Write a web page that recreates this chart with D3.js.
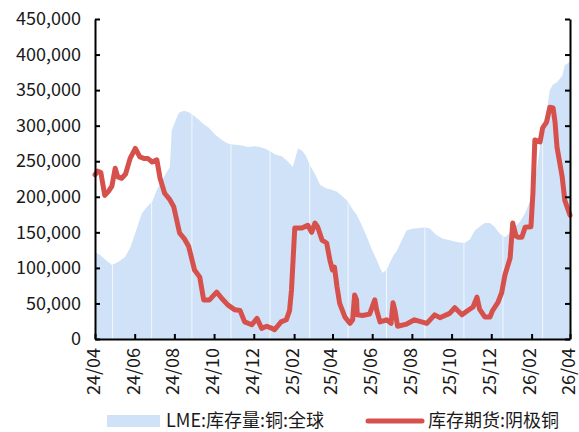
<!DOCTYPE html>
<html>
<head>
<meta charset="utf-8">
<script src="https://cdn.jsdelivr.net/npm/d3@7"></script>
<style>
  html, body { margin: 0; padding: 0; background: #fff; }
  svg text { font-family: "Noto Sans CJK SC", "Noto Sans", sans-serif; fill: #1a1a1a; }
</style>
</head>
<body>
<svg id="chart" width="579" height="432"></svg>
<script>
// LME copper stocks (global), tonnes
const lmeDates = [
  "2024-04-01","2024-04-09","2024-04-16","2024-04-27","2024-05-06","2024-05-17","2024-05-25",
  "2024-06-02","2024-06-12","2024-06-20","2024-06-28","2024-07-05","2024-07-16","2024-07-25",
  "2024-07-28","2024-08-02","2024-08-08","2024-08-16","2024-08-23","2024-08-31","2024-09-08",
  "2024-09-15","2024-09-23","2024-10-02","2024-10-13","2024-10-22","2024-11-02","2024-11-13",
  "2024-11-22","2024-12-03","2024-12-10","2024-12-18","2024-12-26","2025-01-04","2025-01-13",
  "2025-01-22","2025-01-30","2025-02-04","2025-02-07","2025-02-13","2025-02-19","2025-02-25",
  "2025-03-05","2025-03-13","2025-03-22","2025-03-31","2025-04-08","2025-04-17","2025-04-25",
  "2025-05-02","2025-05-08","2025-05-16","2025-05-24","2025-05-31","2025-06-08","2025-06-13",
  "2025-06-17","2025-06-23","2025-06-28","2025-07-04","2025-07-09","2025-07-17","2025-07-24",
  "2025-08-02","2025-08-13","2025-08-21","2025-08-29","2025-09-08","2025-09-18","2025-09-28",
  "2025-10-11","2025-10-21","2025-10-29","2025-11-06","2025-11-13","2025-11-21","2025-11-29",
  "2025-12-06","2025-12-14","2025-12-22","2025-12-30","2026-01-06","2026-01-14","2026-01-22",
  "2026-01-30","2026-02-03","2026-02-09","2026-02-14","2026-02-18","2026-02-24","2026-03-01",
  "2026-03-06","2026-03-12","2026-03-20","2026-03-24","2026-04-01"
];
const lmeValues = [
  122000,118000,112000,104000,108000,115000,128000,
  149000,177000,186000,193000,210000,228000,242000,
  294000,305000,318000,321000,319000,314000,308000,
  302000,297000,288000,280000,275000,273000,272000,
  270000,271000,270000,268000,264000,259000,257000,
  250000,242000,258000,268000,265000,258000,245000,
  232000,217000,212000,210000,207000,200000,193000,
  182000,175000,160000,143000,127000,111000,100000,
  93000,97000,107000,118000,124000,140000,153000,
  155000,156000,157000,155000,146000,141000,139000,
  136000,135000,140000,153000,158000,163000,163000,
  158000,148000,143000,150000,157000,165000,177000,
  195000,214000,238000,270000,298000,320000,350000,
  358000,361000,370000,385000,390000
];

// SHFE cathode copper warrant stocks, tonnes
const shfeDates = [
  "2024-04-01","2024-04-05","2024-04-10","2024-04-16","2024-04-22","2024-04-27","2024-05-02",
  "2024-05-06","2024-05-12","2024-05-18","2024-05-25","2024-06-02","2024-06-09","2024-06-15",
  "2024-06-21","2024-06-28","2024-07-05","2024-07-10","2024-07-17","2024-07-25","2024-07-31",
  "2024-08-09","2024-08-17","2024-08-23","2024-09-01","2024-09-09","2024-09-15","2024-09-24",
  "2024-10-01","2024-10-05","2024-10-13","2024-10-22","2024-11-02","2024-11-10","2024-11-17",
  "2024-11-28","2024-12-06","2024-12-13","2024-12-21","2024-12-29","2025-01-02","2025-01-12",
  "2025-01-20","2025-01-25","2025-01-28","2025-02-02","2025-02-13","2025-02-22","2025-02-28",
  "2025-03-05","2025-03-09","2025-03-16","2025-03-23","2025-03-28","2025-04-01","2025-04-04",
  "2025-04-08","2025-04-12","2025-04-20","2025-04-28","2025-05-02","2025-05-05","2025-05-08",
  "2025-05-09","2025-05-17","2025-05-28","2025-06-05","2025-06-08","2025-06-13","2025-06-23",
  "2025-06-30","2025-07-03","2025-07-06","2025-07-10","2025-07-24","2025-08-05","2025-08-24",
  "2025-09-05","2025-09-13","2025-09-28","2025-10-06","2025-10-17","2025-10-26","2025-11-03",
  "2025-11-09","2025-11-13","2025-11-21","2025-11-29","2025-12-03","2025-12-11","2025-12-17",
  "2025-12-22","2025-12-30","2026-01-03","2026-01-08","2026-01-11","2026-01-17","2026-01-22",
  "2026-01-31","2026-02-03","2026-02-06","2026-02-14","2026-02-18","2026-02-24","2026-03-01",
  "2026-03-06","2026-03-09","2026-03-12","2026-03-20","2026-03-24","2026-04-01"
];
const shfeValues = [
  231000,236000,234000,202000,208000,215000,240000,
  228000,226000,232000,254000,268000,256000,254000,
  254000,249000,252000,226000,205000,196000,186000,
  149000,140000,130000,97000,87000,55000,55000,
  62000,66000,57000,48000,41000,40000,24000,
  20000,29000,15000,18000,15000,13000,24000,
  27000,40000,69000,156000,156000,160000,150000,
  163000,158000,139000,135000,111000,97000,101000,
  73000,50000,31000,22000,27000,62000,55000,
  34000,33000,35000,55000,40000,24000,27000,
  22000,51000,40000,18000,21000,27000,22000,
  34000,30000,36000,44000,34000,40000,45000,
  59000,42000,31000,31000,40000,51000,65000,
  90000,114000,163000,145000,143000,143000,157000,
  158000,205000,280000,277000,297000,305000,326000,
  325000,305000,270000,228000,195000,174000
];

// Light separators running through the filled area
const areaGapDates = [
  "2024-04-28","2024-06-27","2024-08-28","2024-10-27","2024-12-26","2025-02-25",
  "2025-04-25","2025-06-23","2025-08-21","2025-10-20","2025-12-19","2026-02-18"
];

const yTicks = [0, 50000, 100000, 150000, 200000, 250000, 300000, 350000, 400000, 450000];
const xTicks = [
  "2024-04-01","2024-06-01","2024-08-01","2024-10-01","2024-12-01","2025-02-01","2025-04-01",
  "2025-06-01","2025-08-01","2025-10-01","2025-12-01","2026-02-01","2026-04-01"
];
const xDomain = ["2024-04-01", "2026-04-01"];
const legendLabels = ["LME:库存量:铜:全球", "库存期货:阴极铜"];

const parse = d3.utcParse("%Y-%m-%d");
const lme = lmeDates.map((d, i) => ({ date: parse(d), value: lmeValues[i] }));
const shfe = shfeDates.map((d, i) => ({ date: parse(d), value: shfeValues[i] }));

const svg = d3.select("#chart");
const plotLeft = 95, plotRight = 570, plotTop = 19, plotBottom = 339;

const x = d3.scaleUtc().domain(xDomain.map(parse)).range([plotLeft, plotRight]);
const y = d3.scaleLinear().domain([0, 450000]).range([plotBottom, plotTop]);

const blue = "#cfe2f8";
const red = "#d6514c";

// LME area
svg.append("path")
  .datum(lme)
  .attr("fill", blue)
  .attr("d", d3.area().x(d => x(d.date)).y0(y(0)).y1(d => y(d.value)));

const lmeAt = d => {
  const i = d3.bisector(p => p.date).left(lme, d);
  const a = lme[Math.max(0, i - 1)], b = lme[Math.min(lme.length - 1, i)];
  const t = b.date - a.date ? (d - a.date) / (b.date - a.date) : 0;
  return a.value + (b.value - a.value) * t;
};

svg.append("g")
  .selectAll("line")
  .data(areaGapDates.map(parse))
  .join("line")
  .attr("x1", d => x(d)).attr("x2", d => x(d))
  .attr("y1", y(0)).attr("y2", d => y(lmeAt(d)))
  .attr("stroke", "#ffffff")
  .attr("stroke-opacity", 0.75)
  .attr("stroke-width", 1);

// SHFE line
svg.append("path")
  .datum(shfe)
  .attr("fill", "none")
  .attr("stroke", red)
  .attr("stroke-width", 5)
  .attr("stroke-linejoin", "round")
  .attr("stroke-linecap", "round")
  .attr("d", d3.line().x(d => x(d.date)).y(d => y(d.value)));

// Axes
const fmt = d3.format(",");
const yLeft = svg.append("g")
  .attr("transform", `translate(${plotLeft},0)`)
  .call(d3.axisLeft(y).tickValues(yTicks).tickFormat(fmt).tickSizeInner(-5).tickSizeOuter(0).tickPadding(14));

const yRight = svg.append("g")
  .attr("transform", `translate(${plotRight},0)`)
  .call(d3.axisRight(y).tickValues(yTicks).tickFormat("").tickSizeInner(-5).tickSizeOuter(0));

const xAxis = svg.append("g")
  .attr("transform", `translate(0,${plotBottom})`)
  .call(d3.axisBottom(x).tickValues(xTicks.map(parse)).tickFormat(d3.utcFormat("%y/%m")).tickSizeInner(-5).tickSizeOuter(0));

xAxis.selectAll("text")
  .attr("transform", "rotate(-90)")
  .attr("text-anchor", "end")
  .attr("x", -9)
  .attr("y", -2)
  .attr("dy", "0.35em");

[yLeft, yRight, xAxis].forEach(g => {
  g.select(".domain").attr("stroke", "#000").attr("stroke-width", 2);
  g.selectAll(".tick line").attr("stroke", "#000").attr("stroke-width", 2);
  g.selectAll("text").attr("font-size", 18).attr("fill", "#1a1a1a")
    .attr("font-family", "\"Noto Sans CJK SC\", \"Noto Sans\", sans-serif");
});

// Legend
const legend = svg.append("g");
legend.append("rect")
  .attr("x", 107).attr("y", 415).attr("width", 53).attr("height", 12)
  .attr("fill", blue);
legend.append("text")
  .attr("x", 166).attr("y", 421).attr("dy", "0.35em")
  .attr("font-size", 18)
  .text(legendLabels[0]);
legend.append("line")
  .attr("x1", 368).attr("x2", 422).attr("y1", 421).attr("y2", 421)
  .attr("stroke", red).attr("stroke-width", 5).attr("stroke-linecap", "round");
legend.append("text")
  .attr("x", 428).attr("y", 421).attr("dy", "0.35em")
  .attr("font-size", 18)
  .text(legendLabels[1]);
</script>
</body>
</html>
